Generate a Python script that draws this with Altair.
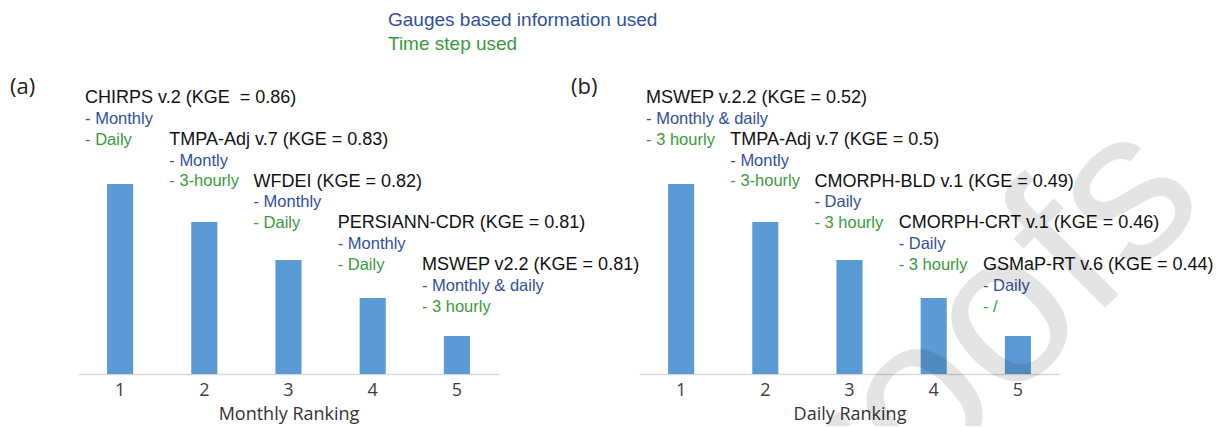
import altair as alt
import pandas as pd

# ---- data ----
ranks = [1, 2, 3, 4, 5]
scores = [5, 4, 3, 2, 1]

monthly_products = ["CHIRPS v.2 (KGE \u00a0= 0.86)", "TMPA-Adj v.7 (KGE = 0.83)",
                    "WFDEI (KGE = 0.82)", "PERSIANN-CDR (KGE = 0.81)",
                    "MSWEP v2.2 (KGE = 0.81)"]
monthly_gauges = ["- Monthly", "- Montly", "- Monthly", "- Monthly", "- Monthly & daily"]
monthly_steps = ["- Daily", "- 3-hourly", "- Daily", "- Daily", "- 3 hourly"]

daily_products = ["MSWEP v.2.2 (KGE = 0.52)", "TMPA-Adj v.7 (KGE = 0.5)",
                  "CMORPH-BLD v.1 (KGE = 0.49)", "CMORPH-CRT v.1 (KGE = 0.46)",
                  "GSMaP-RT v.6 (KGE = 0.44)"]
daily_gauges = ["- Monthly & daily", "- Montly", "- Daily", "- Daily", "- Daily"]
daily_steps = ["- 3 hourly", "- 3-hourly", "- 3 hourly", "- 3 hourly", "- /"]

legend_lines = ["Gauges based information used", "Time step used"]
panel_tags = ["(a)", "(b)"]
axis_titles = ["Monthly Ranking", "Daily Ranking"]
watermark = ["roofs"]

BAR = "#5b9bd5"
BLUE = "#3050a0"
GREEN = "#3a9a3a"
LABEL_FONT = "Liberation Sans"
AXIS_FONT = "Open Sans"

PW, PH = 421, 304  # plotting region of each panel


def panel(products, gauges, steps, xtitle, tag, view_w, view_h, extra=None):
    df = pd.DataFrame({"rank": ranks, "score": scores, "product": products,
                       "gauge": gauges, "step": steps})
    base = alt.Chart(df)
    x = alt.X("rank:O",
              scale=alt.Scale(paddingInner=0.69, paddingOuter=0.345, range=[0, PW]),
              axis=alt.Axis(title=xtitle, labelAngle=0, offset=PH - view_h))
    bars = base.mark_bar(color=BAR).encode(
        x=x, y=alt.Y("score:Q", scale=alt.Scale(domain=[0, 8], range=[PH, 0]), axis=None))
    ty = alt.Y("score:Q", scale=alt.Scale(domain=[-1.611, 5.679], range=[PH, 0]), axis=None)
    t1 = base.mark_text(align="left", baseline="middle", dx=-35, fontSize=18,
                        font=LABEL_FONT, color="#111111").encode(x=x, y=ty, text="product:N")
    t2 = base.mark_text(align="left", baseline="middle", dx=-35, dy=20.7, fontSize=16.5,
                        font=LABEL_FONT, color=BLUE).encode(x=x, y=ty, text="gauge:N")
    t3 = base.mark_text(align="left", baseline="middle", dx=-35, dy=41.4, fontSize=16.5,
                        font=LABEL_FONT, color=GREEN).encode(x=x, y=ty, text="step:N")
    tag_mark = alt.Chart(pd.DataFrame({"t": [tag]})).mark_text(
        align="left", baseline="middle", fontSize=22, font=AXIS_FONT, color="#222222"
    ).encode(x=alt.value(-68), y=alt.value(17), text="t:N")
    layers = [bars, t1, t2, t3, tag_mark]
    if extra:
        layers += extra
    return alt.layer(*layers).resolve_scale(y="independent").properties(
        width=view_w, height=view_h)


leg1 = alt.Chart(pd.DataFrame({"t": [legend_lines[0]]})).mark_text(
    align="left", baseline="middle", fontSize=19, font=LABEL_FONT, color=BLUE
).encode(x=alt.value(310), y=alt.value(-50), text="t:N")
leg2 = alt.Chart(pd.DataFrame({"t": [legend_lines[1]]})).mark_text(
    align="left", baseline="middle", fontSize=19, font=LABEL_FONT, color=GREEN
).encode(x=alt.value(310), y=alt.value(-26), text="t:N")

wm = alt.Chart(pd.DataFrame({"t": watermark})).mark_text(
    align="center", baseline="middle", fontSize=215, angle=315, font=LABEL_FONT,
    color="#000000", opacity=0.1, clip=True
).encode(x=alt.value(356), y=alt.value(256), text="t:N")

left = panel(monthly_products, monthly_gauges, monthly_steps, axis_titles[0], panel_tags[0],
             PW, PH, extra=[leg1, leg2])
right = panel(daily_products, daily_gauges, daily_steps, axis_titles[1], panel_tags[1],
              569, 356, extra=[wm])

chart = alt.hconcat(left, right, spacing=140, bounds="flush").properties(
    padding={"left": 2, "top": 3, "right": 0, "bottom": 0}
).configure_view(strokeWidth=0).configure_axis(
    grid=False, ticks=False, domainColor="#d9d9d9", domainWidth=1.5,
    labelFont=AXIS_FONT, labelFontSize=18, labelColor="#404040", labelPadding=7,
    titleFont=AXIS_FONT, titleFontSize=18, titleFontWeight="normal", titleColor="#333333",
    titlePadding=6
)

chart.save("out.html", embed_options={"renderer": "svg", "actions": False})
